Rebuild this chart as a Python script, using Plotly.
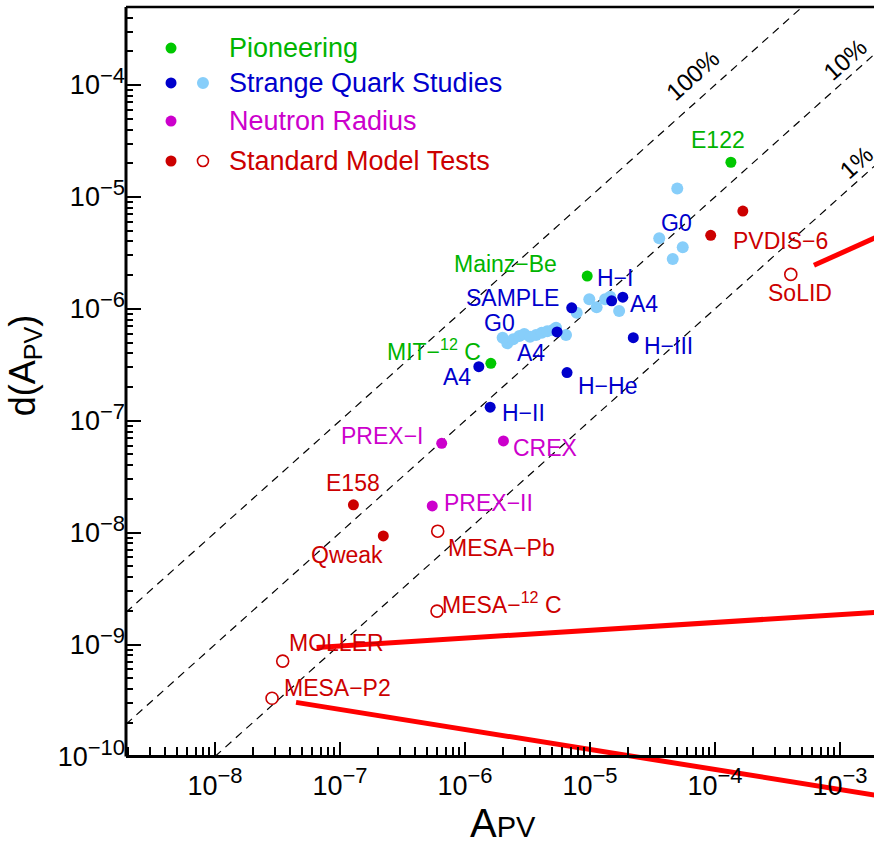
import numpy as np
import plotly.graph_objects as go

# ---------------- data ----------------
# Pioneering experiments (green)
pioneer_A = [1.34e-4, 9.5e-6, 1.61e-6]
pioneer_dA = [2.04e-5, 1.96e-6, 3.26e-7]
pioneer_names = ["E122", "Mainz−Be", "MIT−<sup>12</sup> C"]

# Strange quark studies, labelled (dark blue)
strange_A = [7.14e-6, 1.49e-5, 1.83e-5, 5.45e-6, 1.29e-6, 6.55e-6, 2.22e-5, 1.59e-6]
strange_dA = [1.02e-6, 1.18e-6, 1.27e-6, 6.21e-7, 3.04e-7, 2.69e-7, 5.52e-7, 1.32e-7]
strange_names = ["SAMPLE", "H−I", "A4", "A4", "A4", "H−He", "H−III", "H−II"]

# Strange quark studies, G0 / other bins (light blue)
g0_A = [2.00e-6, 2.18e-6, 2.43e-6, 2.72e-6, 2.98e-6, 3.31e-6, 3.70e-6, 4.11e-6,
        4.55e-6, 5.04e-6, 5.35e-6, 6.43e-6, 7.83e-6, 9.87e-6, 1.13e-5, 1.32e-5,
        1.45e-5, 1.71e-5, 3.58e-5, 4.59e-5, 5.52e-5, 4.99e-5]
g0_dA = [5.52e-7, 4.92e-7, 5.34e-7, 5.71e-7, 5.96e-7, 5.63e-7, 5.83e-7, 6.11e-7,
         6.29e-7, 6.47e-7, 6.78e-7, 5.83e-7, 9.22e-7, 1.22e-6, 1.03e-6, 1.22e-6,
         1.28e-6, 9.54e-7, 4.27e-6, 2.79e-6, 3.55e-6, 1.19e-5]
g0_names = ["G0"] + [""] * 17 + ["G0", "", "", ""]

# Neutron radius (magenta)
neutron_A = [6.51e-7, 2.03e-6, 5.47e-7]
neutron_dA = [6.28e-8, 6.59e-8, 1.73e-8]
neutron_names = ["PREX−I", "CREX", "PREX−II"]

# Standard Model tests, completed (filled red)
sm_done_A = [1.28e-7, 2.22e-7, 9.24e-5, 1.67e-4]
sm_done_dA = [1.77e-8, 9.35e-9, 4.54e-6, 7.48e-6]
sm_done_names = ["E158", "Qweak", "PVDIS−6", ""]

# Standard Model tests, planned (open red)
sm_plan_A = [4.04e-4, 6.05e-7, 5.97e-7, 3.48e-8, 2.86e-8]
sm_plan_dA = [2.03e-6, 1.03e-8, 1.99e-9, 7.11e-10, 3.31e-10]
sm_plan_names = ["SoLID", "MESA−Pb", "MESA−<sup>12</sup> C", "MOLLER", "MESA−P2"]

# thick red lines
red1_A = [6.5e-8, 3.0e-3]
red1_dA = [9.4e-10, 2.0e-9]
red2_A = [4.45e-8, 3.0e-3]
red2_dA = [3.04e-10, 4.16e-11]
red3_A = [6.19e-4, 3.0e-3]
red3_dA = [2.45e-6, 5.4e-6]

# relative-precision guide lines
pct_levels = [1.0, 0.1, 0.01]
pct_labels = ["100%", "10%", "1%"]
pct_label_A = [10 ** -4.182, 10 ** -2.96, 10 ** -2.872]

# axis tick values / labels
x_tick_exp = [-8, -7, -6, -5, -4, -3]
y_tick_exp = [-10, -9, -8, -7, -6, -5, -4]

# ---------------- styling / layout parameters ----------------
FONT = "Liberation Sans, Arial, Helvetica, sans-serif"
GREEN = "#00c800"
GREEN_T = "#00b400"
DBLUE = "#0000cc"
LBLUE = "#87cefa"
MAGENTA = "#cc00cc"
RED = "#cc0000"
LINE_RED = "#ff0000"

xr = [-8.712, -2.728]
yr = [-10.434, -3.303]
x_axis_pos = (-10 - yr[0]) / (yr[1] - yr[0])

# label pixel offsets (dx right, dy up) relative to each point
pioneer_shift = [(-13, 22), (-82, 12), (-57, 13)]
strange_shift = [(-59, 10), (3, 23), (21, -7), (-26, -21), (-22, -10), (40, -13), (35, -8), (33, -6)]
g0_shift = [(-3, 15)] + [(0, 0)] * 17 + [(17, 15), (0, 0), (0, 0), (0, 0)]
neutron_shift = [(-60, 7), (42, -7), (56, 3)]
sm_done_shift = [(0, 22), (-36, -19), (70, -6), (0, 0)]
sm_plan_shift = [(9, -19), (64, -17), (65, 8), (54, 18), (65, 10)]
pct_shift = [30, 21, 20]


def pow_label(e):
    return "10<sup><span style='font-size:22px'>−%d</span></sup>" % abs(e)


fig = go.Figure()

# dashed precision lines
for k in pct_levels:
    xs = [max(10 ** xr[0], 1e-10 / k), 10 ** -2.5]
    fig.add_trace(go.Scatter(x=xs, y=[k * v for v in xs], mode="lines",
                             line=dict(color="black", width=1.2, dash="8px,6px"),
                             hoverinfo="skip"))

# red lines
for ax_, ay_ in [(red1_A, red1_dA), (red2_A, red2_dA), (red3_A, red3_dA)]:
    fig.add_trace(go.Scatter(x=ax_, y=ay_, mode="lines",
                             line=dict(color=LINE_RED, width=5), hoverinfo="skip"))


def add_points(A, dA, color, symbol="circle", size=11):
    fig.add_trace(go.Scatter(
        x=A, y=dA, mode="markers", cliponaxis=False,
        marker=dict(color=color, size=size, symbol=symbol,
                    line=dict(color=color, width=1.6 if "open" in symbol else 0))))


add_points(g0_A, g0_dA, LBLUE, size=12)
add_points(pioneer_A, pioneer_dA, GREEN)
add_points(strange_A, strange_dA, DBLUE)
add_points(neutron_A, neutron_dA, MAGENTA)
add_points(sm_done_A, sm_done_dA, RED)
add_points(sm_plan_A, sm_plan_dA, RED, symbol="circle-open", size=12)

annotations = []


def add_labels(A, dA, names, shifts, color):
    for a, d, n, (dx, dy) in zip(A, dA, names, shifts):
        if not n:
            continue
        annotations.append(dict(x=np.log10(a), y=np.log10(d), xref="x", yref="y",
                                text=n, showarrow=False, xshift=dx, yshift=dy,
                                xanchor="center", yanchor="middle",
                                font=dict(family=FONT, size=23, color=color)))


add_labels(pioneer_A, pioneer_dA, pioneer_names, pioneer_shift, GREEN_T)
add_labels(strange_A, strange_dA, strange_names, strange_shift, DBLUE)
add_labels(g0_A, g0_dA, g0_names, g0_shift, DBLUE)
add_labels(neutron_A, neutron_dA, neutron_names, neutron_shift, MAGENTA)
add_labels(sm_done_A, sm_done_dA, sm_done_names, sm_done_shift, RED)
add_labels(sm_plan_A, sm_plan_dA, sm_plan_names, sm_plan_shift, RED)

# percentage labels on guide lines
for k, t, a, s in zip(pct_levels, pct_labels, pct_label_A, pct_shift):
    annotations.append(dict(x=np.log10(a), y=np.log10(k * a), xref="x", yref="y",
                            text=t, showarrow=False, yshift=s, textangle=-41.8,
                            xanchor="center", yanchor="middle",
                            font=dict(family=FONT, size=24, color="black")))

# legend (drawn inside the frame)
legend_rows = [
    ("Pioneering", GREEN, None, GREEN_T, 0.9486),
    ("Strange Quark Studies", DBLUE, LBLUE, DBLUE, 0.9048),
    ("Neutron Radius", MAGENTA, None, MAGENTA, 0.8571),
    ("Standard Model Tests", RED, "open", RED, 0.8070),
]
shapes = []
for text, c1, c2, tc, yy in legend_rows:
    shapes.append(dict(type="circle", xref="paper", yref="paper", xsizemode="pixel",
                       ysizemode="pixel", xanchor=0.0602, yanchor=yy,
                       x0=-5.5, x1=5.5, y0=-5.5, y1=5.5, fillcolor=c1, line=dict(width=0)))
    if c2 == "open":
        shapes.append(dict(type="circle", xref="paper", yref="paper", xsizemode="pixel",
                           ysizemode="pixel", xanchor=0.1029, yanchor=yy,
                           x0=-5.5, x1=5.5, y0=-5.5, y1=5.5, fillcolor="white",
                           line=dict(color=RED, width=1.6)))
    elif c2:
        shapes.append(dict(type="circle", xref="paper", yref="paper", xsizemode="pixel",
                           ysizemode="pixel", xanchor=0.1029, yanchor=yy,
                           x0=-6, x1=6, y0=-6, y1=6, fillcolor=c2, line=dict(width=0)))
    annotations.append(dict(x=0.135, y=yy, xref="paper", yref="paper", text=text,
                            showarrow=False, xanchor="left", yanchor="middle",
                            font=dict(family=FONT, size=27, color=tc)))

# frame lines (top and left)
shapes.append(dict(type="line", xref="paper", yref="paper", x0=0, x1=1, y0=1, y1=1,
                   line=dict(color="black", width=2.5)))
shapes.append(dict(type="line", xref="paper", yref="paper", x0=0, x1=0, y0=x_axis_pos, y1=1,
                   line=dict(color="black", width=3)))

# axis titles
annotations.append(dict(x=0.504, y=-0.022, xref="paper", yref="paper",
                        text="A<span style='font-size:29px'>PV</span>", showarrow=False,
                        xanchor="center", yanchor="middle",
                        font=dict(family=FONT, size=40, color="black")))
annotations.append(dict(x=-0.135, y=0.551, xref="paper", yref="paper",
                        text="d(A<sub>PV</sub>)", showarrow=False, textangle=-90,
                        xanchor="center", yanchor="middle",
                        font=dict(family=FONT, size=36, color="black")))

x_minor = [m * 10.0 ** e for e in range(-9, -2) for m in range(2, 10)]
y_minor = [m * 10.0 ** e for e in range(-10, -3) for m in range(2, 10)]

fig.update_layout(
    width=874, height=846,
    margin=dict(l=126, r=0, t=7, b=41),
    paper_bgcolor="white", plot_bgcolor="white",
    showlegend=False,
    font=dict(family=FONT, color="black"),
    shapes=shapes, annotations=annotations,
    xaxis=dict(type="log", range=xr, anchor="free", position=x_axis_pos,
               showline=True, linewidth=3, linecolor="black",
               ticks="inside", ticklen=13, tickwidth=1.5, tickcolor="black",
               tickmode="array", tickvals=[10.0 ** e for e in x_tick_exp],
               ticktext=[pow_label(e) for e in x_tick_exp],
               ticklabelstandoff=4,
               showgrid=False, zeroline=False,
               tickfont=dict(family=FONT, size=27, color="black"),
               minor=dict(tickmode="array", tickvals=x_minor, ticks="inside",
                          ticklen=8, tickwidth=1.5, tickcolor="black", showgrid=False)),
    yaxis=dict(type="log", range=yr, showline=False,
               ticks="inside", ticklen=15, tickwidth=1.5, tickcolor="black",
               tickmode="array", tickvals=[10.0 ** e for e in y_tick_exp],
               ticktext=[pow_label(e) for e in y_tick_exp],
               showgrid=False, zeroline=False,
               tickfont=dict(family=FONT, size=27, color="black"),
               minor=dict(tickmode="array", tickvals=y_minor, ticks="inside",
                          ticklen=7, tickwidth=1.5, tickcolor="black", showgrid=False)),
)

fig.write_html("out.html")
